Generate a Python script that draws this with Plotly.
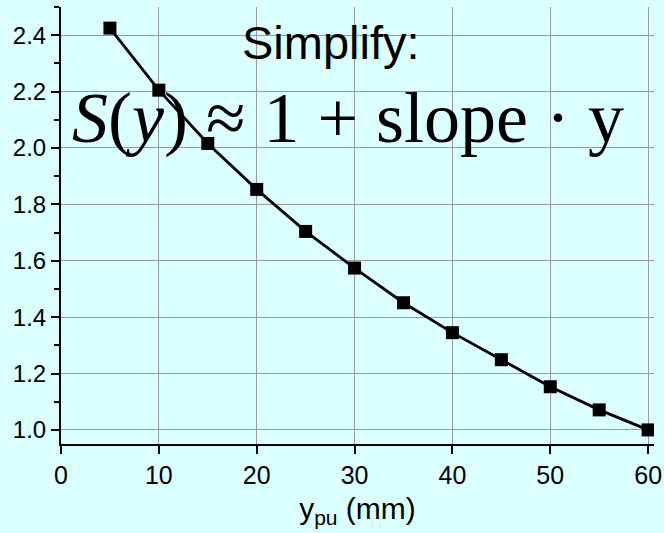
import plotly.graph_objects as go

x_mm = [5, 10, 15, 20, 25, 30, 35, 40, 45, 50, 55, 60]
s_vals = [2.425, 2.205, 2.016, 1.853, 1.704, 1.574, 1.451, 1.345, 1.249, 1.153, 1.071, 1.0]
x_ticks = [0, 10, 20, 30, 40, 50, 60]
y_ticks = [1.0, 1.2, 1.4, 1.6, 1.8, 2.0, 2.2, 2.4]

bg = "#DBFFFF"

fig = go.Figure()
fig.add_trace(go.Scatter(
    x=x_mm, y=s_vals, mode="lines+markers",
    line=dict(color="black", width=2.8),
    marker=dict(symbol="square", size=13, color="black"),
    showlegend=False,
))

fig.update_layout(
    width=664, height=533,
    paper_bgcolor=bg, plot_bgcolor=bg,
    margin=dict(l=61, r=10, t=7, b=89, autoexpand=False),
    font=dict(family="Liberation Sans, Arial, sans-serif", color="black"),
)

fig.update_xaxes(
    range=[0, 60.6], tickvals=x_ticks, ticktext=[str(v) for v in x_ticks],
    showgrid=True, gridcolor="#9a9a9a", gridwidth=1,
    showline=True, linecolor="black", linewidth=2,
    ticks="outside", ticklen=8, tickwidth=2, tickcolor="black",
    tickfont=dict(size=25), zeroline=False, automargin=False,
    title=dict(text="y<sub>pu</sub> (mm)", font=dict(size=30), standoff=10),
)
fig.update_yaxes(
    range=[0.95, 2.5], tickvals=y_ticks, ticktext=[f"{v:.1f}" for v in y_ticks],
    showgrid=True, gridcolor="#9a9a9a", gridwidth=1,
    showline=True, linecolor="black", linewidth=2,
    ticks="outside", ticklen=8, tickwidth=2, tickcolor="black",
    tickfont=dict(size=24), zeroline=False, automargin=False,
    minor=dict(dtick=0.1, tick0=0.9, ticks="outside", ticklen=5, tickwidth=2, tickcolor="black", showgrid=False),
)

fig.add_annotation(
    text="Simplify:", xref="paper", yref="paper", x=0.455, y=0.918,
    showarrow=False, font=dict(size=47, family="Liberation Sans, Arial, sans-serif", color="black"),
    xanchor="center", yanchor="middle",
)
fig.add_annotation(
    text="<i>S</i>(<i>y</i>) ≈ 1 + slope · y", xref="paper", yref="paper", x=0.484, y=0.745,
    showarrow=False, font=dict(size=72, family="Liberation Serif, Times New Roman, serif", color="black"),
    xanchor="center", yanchor="middle",
)

fig.write_html("out.html", config={"displayModeBar": False},
               post_script="document.body.style.margin='0';")
